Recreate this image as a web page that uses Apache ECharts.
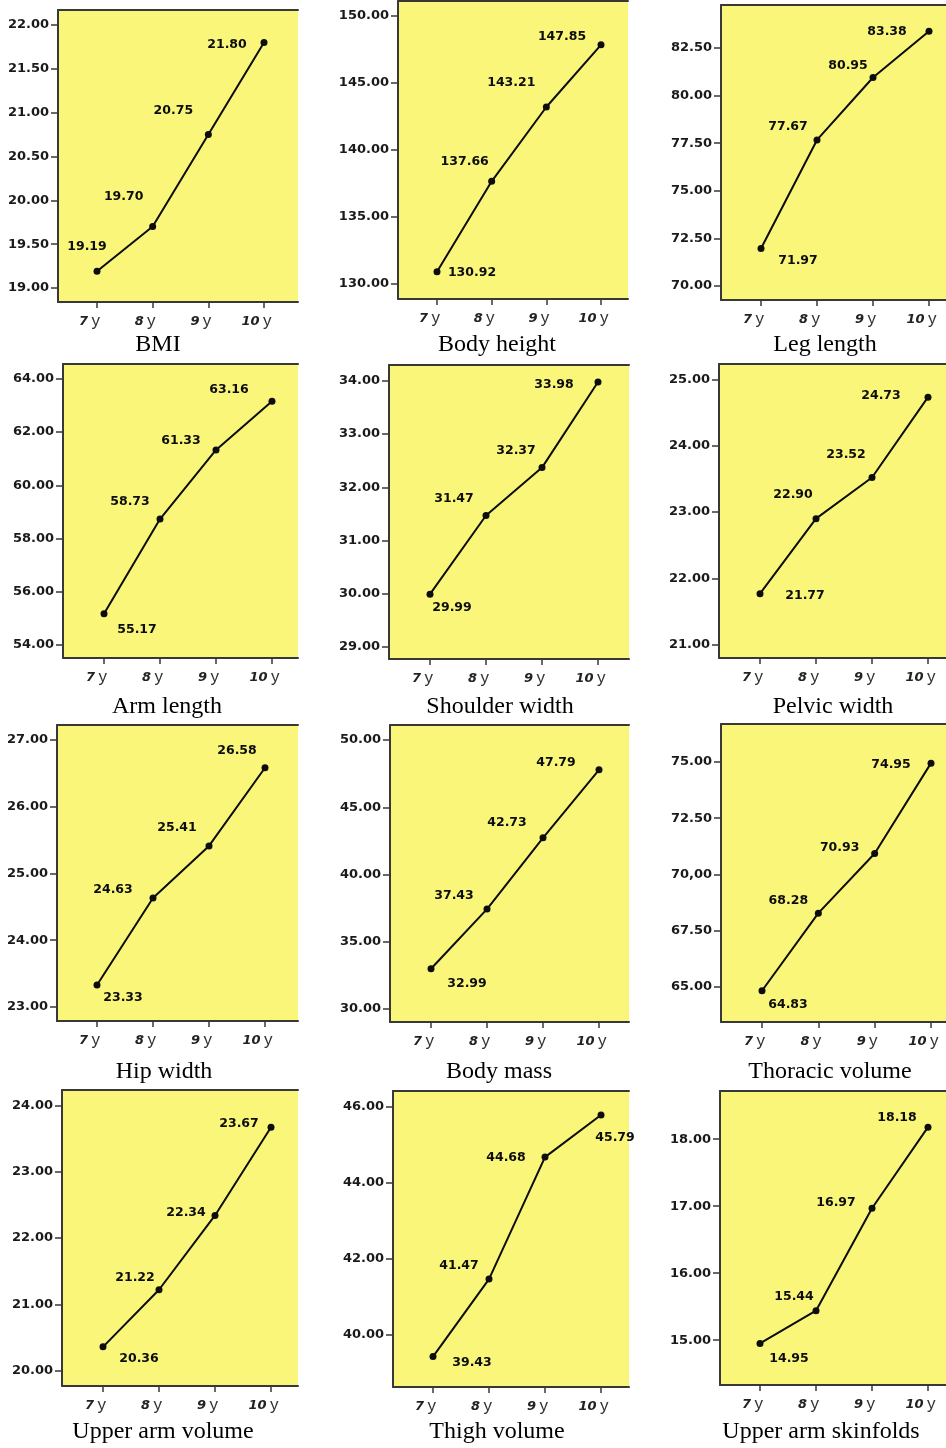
<!DOCTYPE html>
<html>
<head>
<meta charset="utf-8">
<script src="https://cdn.jsdelivr.net/npm/echarts@6/dist/echarts.min.js"></script>
<style>
html,body{margin:0;padding:0;background:#fff;}
#chart{width:946px;height:1448px;}
</style>
</head>
<body>
<div id="chart"></div>
<script>
// ---------- DATA ----------
const ages = [7, 8, 9, 10];
const ageUnit = 'y';
const titles = ['BMI', 'Body height', 'Leg length', 'Arm length', 'Shoulder width', 'Pelvic width',
  'Hip width', 'Body mass', 'Thoracic volume', 'Upper arm volume', 'Thigh volume', 'Upper arm skinfolds'];

const bmi = [19.19, 19.70, 20.75, 21.80];
const bodyHeight = [130.92, 137.66, 143.21, 147.85];
const legLength = [71.97, 77.67, 80.95, 83.38];
const armLength = [55.17, 58.73, 61.33, 63.16];
const shoulderWidth = [29.99, 31.47, 32.37, 33.98];
const pelvicWidth = [21.77, 22.90, 23.52, 24.73];
const hipWidth = [23.33, 24.63, 25.41, 26.58];
const bodyMass = [32.99, 37.43, 42.73, 47.79];
const thoracicVolume = [64.83, 68.28, 70.93, 74.95];
const upperArmVolume = [20.36, 21.22, 22.34, 23.67];
const thighVolume = [39.43, 41.47, 44.68, 45.79];
const upperArmSkinfolds = [14.95, 15.44, 16.97, 18.18];

const bmiTicks = ['19.00', '19.50', '20.00', '20.50', '21.00', '21.50', '22.00'];
const bodyHeightTicks = ['130.00', '135.00', '140.00', '145.00', '150.00'];
const legLengthTicks = ['70.00', '72.50', '75.00', '77.50', '80.00', '82.50'];
const armLengthTicks = ['54.00', '56.00', '58.00', '60.00', '62.00', '64.00'];
const shoulderWidthTicks = ['29.00', '30.00', '31.00', '32.00', '33.00', '34.00'];
const pelvicWidthTicks = ['21.00', '22.00', '23.00', '24.00', '25.00'];
const hipWidthTicks = ['23.00', '24.00', '25.00', '26.00', '27.00'];
const bodyMassTicks = ['30.00', '35.00', '40.00', '45.00', '50.00'];
const thoracicVolumeTicks = ['65.00', '67.50', '70,00', '72.50', '75.00'];
const upperArmVolumeTicks = ['20.00', '21.00', '22.00', '23.00', '24.00'];
const thighVolumeTicks = ['40.00', '42.00', '44.00', '46.00'];
const upperArmSkinfoldsTicks = ['15.00', '16.00', '17.00', '18.00'];

const panelValues = [bmi, bodyHeight, legLength, armLength, shoulderWidth, pelvicWidth,
  hipWidth, bodyMass, thoracicVolume, upperArmVolume, thighVolume, upperArmSkinfolds];
const panelTicks = [bmiTicks, bodyHeightTicks, legLengthTicks, armLengthTicks, shoulderWidthTicks, pelvicWidthTicks,
  hipWidthTicks, bodyMassTicks, thoracicVolumeTicks, upperArmVolumeTicks, thighVolumeTicks, upperArmSkinfoldsTicks];

// ---------- LAYOUT (positions / styles) ----------
const layout = [
  {l:58, t:10, r:298, b:302, x7:97, x10:264, yMin:18.84, yMax:22.17, tx:158, ty:345, off:[[-10,-25],[-29,-30],[-35,-24],[-37,2]]},
  {l:398, t:1, r:628, b:299, x7:437, x10:601, yMin:128.88, yMax:151.12, tx:497, ty:345, off:[[35,1],[-27,-20],[-35,-24],[-39,-8]]},
  {l:721, t:5, r:975, b:300, x7:761, x10:929, yMin:69.26, yMax:84.76, tx:825, ty:345, off:[[37,12],[-29,-13],[-25,-12],[-42,0]]},
  {l:63, t:364, r:298, b:658, x7:104, x10:272, yMin:53.51, yMax:64.56, tx:167, ty:707, off:[[33,16],[-30,-17],[-35,-9],[-43,-11]]},
  {l:389, t:365, r:629, b:659, x7:430, x10:598, yMin:28.77, yMax:34.30, tx:500, ty:707, off:[[22,14],[-32,-17],[-26,-17],[-44,3]]},
  {l:719, t:364, r:975, b:658, x7:760, x10:928, yMin:20.80, yMax:25.23, tx:833, ty:707, off:[[45,2],[-23,-24],[-26,-23],[-47,-1]]},
  {l:57, t:725, r:298, b:1021, x7:97, x10:265, yMin:22.79, yMax:27.22, tx:164, ty:1072, off:[[26,13],[-40,-8],[-32,-18],[-28,-17]]},
  {l:390, t:725, r:629, b:1022, x7:431, x10:599, yMin:29.03, yMax:51.12, tx:499, ty:1072, off:[[36,15],[-33,-13],[-36,-15],[-43,-7]]},
  {l:721, t:724, r:975, b:1022, x7:762, x10:931, yMin:63.44, yMax:76.69, tx:830, ty:1072, off:[[26,14],[-30,-12],[-35,-6],[-40,2]]},
  {l:62, t:1090, r:298, b:1386, x7:103, x10:271, yMin:19.77, yMax:24.23, tx:163, ty:1432, off:[[36,12],[-24,-12],[-29,-3],[-32,-3]]},
  {l:393, t:1091, r:629, b:1387, x7:433, x10:601, yMin:38.63, yMax:46.42, tx:497, ty:1432, off:[[39,6],[-30,-13],[-39,1],[14,23]]},
  {l:720, t:1091, r:975, b:1385, x7:760, x10:928, yMin:14.33, yMax:18.72, tx:821, ty:1432, off:[[29,15],[-22,-14],[-36,-5],[-31,-9]]}
];

const YELLOW = '#FAF67A';
const AXIS = '#383838';
const INK = '#0d0d0d';

const grids = [], xAxes = [], yAxes = [], series = [], graphics = [];

layout.forEach((L, i) => {
  const sp = (L.x10 - L.x7) / (ages[ages.length - 1] - ages[0]);
  const xMin = ages[0] - (L.x7 - L.l) / sp;
  const xMax = ages[0] + (L.r - L.x7) / sp;
  const tickStr = panelTicks[i];
  const tickVals = tickStr.map(s => parseFloat(s.replace(',', '.')));

  grids.push({
    left: L.l, top: L.t, width: L.r - L.l, height: L.b - L.t,
    show: true, backgroundColor: YELLOW, borderWidth: 0,
    containLabel: false, outerBoundsMode: 'none'
  });

  xAxes.push({
    type: 'value', gridIndex: i, min: xMin, max: xMax, position: 'bottom',
    splitLine: {show: false},
    axisLine: {show: true, onZero: false, lineStyle: {color: AXIS, width: 2}},
    axisTick: {show: true, customValues: ages, length: 6, lineStyle: {color: AXIS, width: 1.5}},
    axisLabel: {
      show: true, customValues: ages, margin: 11, padding: [0, 15, 0, 0],
      formatter: v => '{n|' + v + '} {u|' + ageUnit + '}',
      rich: {
        n: {fontFamily: 'DejaVu Sans', fontWeight: 'bold', fontStyle: 'italic', fontSize: 13, color: '#222'},
        u: {fontFamily: 'Liberation Sans', fontSize: 17, color: '#333'}
      }
    }
  });
  xAxes.push({
    type: 'value', gridIndex: i, min: xMin, max: xMax, position: 'top',
    splitLine: {show: false},
    axisLine: {show: true, onZero: false, lineStyle: {color: AXIS, width: 2}},
    axisTick: {show: false}, axisLabel: {show: false}
  });

  yAxes.push({
    type: 'value', gridIndex: i, min: L.yMin, max: L.yMax,
    splitLine: {show: false},
    axisLine: {show: true, onZero: false, lineStyle: {color: AXIS, width: 2}},
    axisTick: {show: true, customValues: tickVals, length: 7, lineStyle: {color: AXIS, width: 1.5}},
    axisLabel: {
      show: true, customValues: tickVals, margin: 9,
      fontFamily: 'DejaVu Sans', fontWeight: 'bold', fontSize: 13, color: '#1a1a1a',
      formatter: v => {
        const k = tickVals.findIndex(t => Math.abs(t - v) < 1e-6);
        return k >= 0 ? tickStr[k] : '';
      }
    }
  });

  const vals = panelValues[i];
  series.push({
    type: 'line', xAxisIndex: 2 * i, yAxisIndex: i,
    data: vals.map((v, j) => ({value: [ages[j], v], label: {offset: L.off[j]}})),
    symbol: 'circle', symbolSize: 7, clip: false,
    itemStyle: {color: INK},
    lineStyle: {color: INK, width: 2},
    label: {
      show: true, position: 'inside', align: 'center', verticalAlign: 'middle',
      fontFamily: 'DejaVu Sans', fontWeight: 'bold', fontSize: 12.5, color: INK,
      formatter: p => p.value[1].toFixed(2)
    },
    emphasis: {disabled: true},
    animation: false
  });

  graphics.push({
    type: 'text', x: L.tx, y: L.ty, silent: true,
    style: {text: titles[i], fill: '#000', font: '24px "Liberation Serif"', align: 'center', verticalAlign: 'middle'}
  });
});

const chart = echarts.init(document.getElementById('chart'), null, {renderer: 'canvas'});
chart.setOption({
  animation: false,
  backgroundColor: '#ffffff',
  grid: grids,
  xAxis: xAxes,
  yAxis: yAxes,
  series: series,
  graphic: graphics,
  tooltip: {show: false}
});
</script>
</body>
</html>
